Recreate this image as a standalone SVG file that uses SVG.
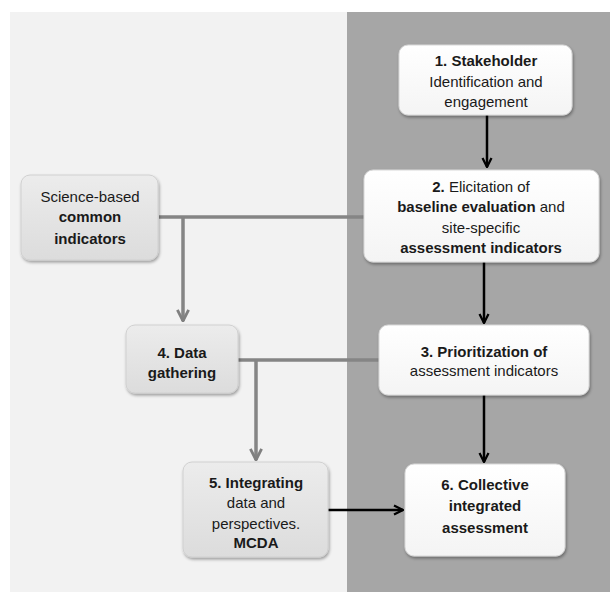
<svg xmlns="http://www.w3.org/2000/svg" width="610" height="592" viewBox="0 0 610 592">
<defs>
<filter id="sh" x="-10%" y="-10%" width="125%" height="130%">
<feDropShadow dx="1" dy="2" stdDeviation="1.5" flood-color="#000" flood-opacity="0.35"/>
</filter>
<linearGradient id="gw" x1="0" y1="0" x2="0" y2="1"><stop offset="0" stop-color="#ffffff"/><stop offset="1" stop-color="#f4f4f4"/></linearGradient>
<linearGradient id="gg" x1="0" y1="0" x2="0" y2="1"><stop offset="0" stop-color="#ececec"/><stop offset="1" stop-color="#dcdcdc"/></linearGradient>
<marker id="ab" viewBox="0 0 10 10" refX="9" refY="5" markerWidth="4.5" markerHeight="4.5" orient="auto" markerUnits="strokeWidth"><path d="M1,1 L9,5 L1,9" fill="none" stroke="#000" stroke-width="2"/></marker>
<marker id="ag" viewBox="0 0 10 10" refX="9" refY="5" markerWidth="4" markerHeight="4" orient="auto" markerUnits="strokeWidth"><path d="M1,1 L9,5 L1,9" fill="none" stroke="#808080" stroke-width="2"/></marker>
</defs>
<style>
text{font-family:"Liberation Sans",Arial,sans-serif;font-size:15px;fill:#1a1a1a;text-anchor:middle}
.b{font-weight:bold}
.w{fill:url(#gw);stroke:#d8d8d8;stroke-width:1;filter:url(#sh)}
.g{fill:url(#gg);stroke:#d0d0d0;stroke-width:1;filter:url(#sh)}
.k{fill:none;stroke:#000;stroke-width:2.5}
.y{fill:none;stroke:#858585;stroke-width:3.5}
</style>
<rect x="0" y="0" width="610" height="592" fill="#ffffff"/>
<rect x="10" y="12" width="337" height="580" fill="#f2f2f2"/>
<rect x="347" y="12" width="263" height="580" fill="#a6a6a6"/>
<g id="connectors">
<path class="y" d="M159,217 H364"/>
<path class="y" d="M183,217 V321" marker-end="url(#ag)"/>
<path class="y" d="M238,360 H379"/>
<path class="y" d="M256,360 V460" marker-end="url(#ag)"/>
<path class="k" d="M487,115 V167" marker-end="url(#ab)"/>
<path class="k" d="M484,262 V323" marker-end="url(#ab)"/>
<path class="k" d="M484,395 V462" marker-end="url(#ab)"/>
<path class="k" d="M328,510 H403" marker-end="url(#ab)"/>
</g>
<g id="n1">
<rect class="w" x="399" y="45" width="173" height="70" rx="9"/>
<text x="486" y="66"><tspan class="b">1. Stakeholder</tspan></text>
<text x="486" y="87">Identification and</text>
<text x="486" y="107">engagement</text>
</g>
<g id="n2">
<rect class="w" x="364" y="170" width="235" height="92" rx="9"/>
<text x="481" y="192"><tspan class="b">2.</tspan> Elicitation of</text>
<text x="481" y="212"><tspan class="b">baseline evaluation</tspan> and</text>
<text x="481" y="233">site-specific</text>
<text x="481" y="253" class="b">assessment indicators</text>
</g>
<g id="sci">
<rect class="g" x="21" y="175" width="137" height="85" rx="9"/>
<text x="90" y="202">Science-based</text>
<text x="90" y="222" class="b">common</text>
<text x="90" y="244" class="b">indicators</text>
</g>
<g id="n4">
<rect class="g" x="126" y="325" width="112" height="68" rx="9"/>
<text x="182" y="358" class="b">4. Data</text>
<text x="182" y="378" class="b">gathering</text>
</g>
<g id="n3">
<rect class="w" x="379" y="325" width="210" height="70" rx="9"/>
<text x="484" y="357" class="b">3. Prioritization of</text>
<text x="484" y="376">assessment indicators</text>
</g>
<g id="n5">
<rect class="g" x="183" y="462" width="145" height="95" rx="9"/>
<text x="256" y="488" class="b">5. Integrating</text>
<text x="256" y="508">data and</text>
<text x="256" y="529">perspectives.</text>
<text x="256" y="548" class="b">MCDA</text>
</g>
<g id="n6">
<rect class="w" x="405" y="464" width="160" height="92" rx="9"/>
<text x="485" y="490" class="b">6. Collective</text>
<text x="485" y="511" class="b">integrated</text>
<text x="485" y="533" class="b">assessment</text>
</g>
</svg>
